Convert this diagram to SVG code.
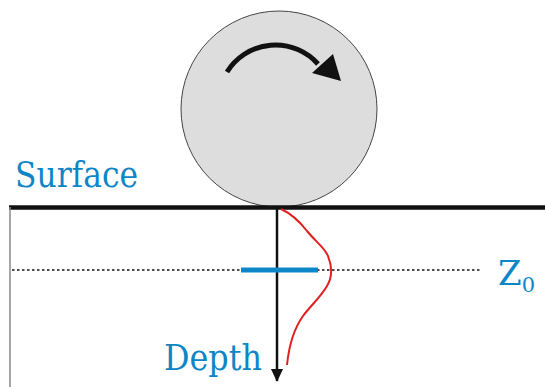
<svg xmlns="http://www.w3.org/2000/svg" width="545" height="387" viewBox="0 0 545 387">
<style>
.lbl{fill:#0d86c8;font-family:"DejaVu Serif",serif}
</style>
<defs>
<marker id="ah" markerWidth="13" markerHeight="12" refX="12" refY="6" orient="auto" markerUnits="userSpaceOnUse" viewBox="0 0 13 12">
<path d="M0,0 L13,6 L0,12 Z" fill="#111"/>
</marker>
</defs>
<rect width="545" height="387" fill="#fff"/>
<g id="wheel">
<circle cx="279" cy="109" r="98" fill="#dddddd" stroke="#444" stroke-width="1"/>
<path d="M227,72 A57,57 0 0 1 318,64" fill="none" stroke="#111" stroke-width="5"/>
<polygon points="341,81 312,73 333,54" fill="#111"/>
</g>
<g id="ground">
<line x1="9" y1="207.5" x2="545" y2="207.5" stroke="#111" stroke-width="4.5"/>
<line x1="10" y1="207" x2="10" y2="387" stroke="#888" stroke-width="1.5"/>
<line x1="12" y1="270" x2="481" y2="270" stroke="#111" stroke-width="1.5" stroke-dasharray="2.5,2.5"/>
</g>
<g id="connectors">
<line x1="277" y1="209" x2="277" y2="381" stroke="#111" stroke-width="2.5" marker-end="url(#ah)"/>
<path d="M281,209 C292,214 300,222 307,231 C316,242 325,248 328,256 C332,266 333,276 327,286 C320,298 312,304 303,316 C293,330 289,345 287,365" fill="none" stroke="#e02020" stroke-width="2"/>
</g>
<g id="z0bar">
<line x1="241" y1="270" x2="318" y2="270" stroke="#0d86c8" stroke-width="5"/>
</g>
<g id="labels">
<text class="lbl" x="15" y="187" font-size="35" textLength="123" lengthAdjust="spacingAndGlyphs">Surface</text>
<text class="lbl" x="164" y="370" font-size="35" textLength="98" lengthAdjust="spacingAndGlyphs">Depth</text>
<text class="lbl" x="498" y="285" font-size="34">Z<tspan font-size="21" dy="7">0</tspan></text>
</g>
</svg>
